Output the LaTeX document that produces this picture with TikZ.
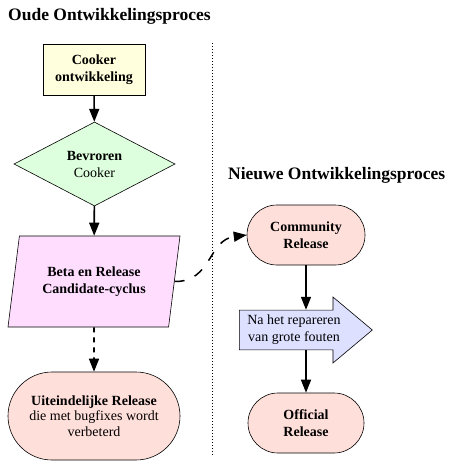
\documentclass[tikz,border=0pt]{standalone}
\usepackage{fontspec}
\setmainfont{Liberation Serif}
\usetikzlibrary{arrows.meta,shapes.geometric,shapes.arrows}
\definecolor{cookeryellow}{HTML}{FFFFDD}
\definecolor{frozengreen}{HTML}{DDFFDD}
\definecolor{betapink}{HTML}{FFDDFF}
\definecolor{releaserose}{HTML}{FFDFDA}
\definecolor{fixblue}{HTML}{DDE0FF}
\tikzset{
	box/.style={draw, line width=0.6pt, align=center, inner sep=0pt, font=\fontsize{14}{17}\selectfont},
	release/.style={box, fill=releaserose, rounded corners=#1},
	flow/.style={line width=1.6pt, -{Triangle[length=13pt,width=10pt]}},
	heading/.style={anchor=west, inner sep=0pt, font=\fontsize{17.5}{20}\selectfont\bfseries},
}

\begin{document}
\begin{tikzpicture}[x=1pt, y=-1pt]
		%%%%% START %%%%%
		\useasboundingbox (0, 0) rectangle (450, 471);
		
		\node[heading] (oldtitle) at (8, 16) {Oude Ontwikkelingsproces};
		\node[heading] (newtitle) at (228, 175) {Nieuwe Ontwikkelingsproces};
		
		\draw[line width=0.8pt, dash pattern=on 1pt off 2pt] (212, 43) -- (212, 455);
		
		%% old process
		\node[box, fill=cookeryellow, minimum width=102pt, minimum height=51pt] (cooker) at (94, 69.5) {\textbf{Cooker}\\\textbf{ontwikkeling}};
		\node[box, diamond, aspect=1.9, fill=frozengreen, minimum width=161pt, minimum height=84pt] (frozen) at (94.5, 164) {\textbf{Bevroren}\\Cooker};
		\node[box, trapezium, trapezium left angle=69, trapezium right angle=111, trapezium stretches body, fill=betapink, minimum width=172pt, minimum height=91pt] (beta) at (94, 281.5) {\textbf{Beta en Release}\\\textbf{Candidate-cyclus}};
		\node[release=44pt, minimum width=172pt, minimum height=88pt, font=\fontsize{14}{15.5}\selectfont] (final) at (94, 416) {\textbf{Uiteindelijke Release}\\die met bugfixes wordt\\verbeterd};
		
		\draw[flow] (cooker) -- (frozen);
		\draw[flow] (frozen) -- (beta);
		\draw[flow, dash pattern=on 5pt off 5pt] (beta) -- (final);
		
		%% new process
		\node[release=30pt, minimum width=118pt, minimum height=60pt] (community) at (306, 235) {\textbf{Community}\\\textbf{Release}};
		\node[box, single arrow, fill=fixblue, single arrow head extend=10pt, single arrow tip angle=80, minimum height=133pt, minimum width=66pt, anchor=tail] (fix) at (239, 330) {Na het repareren\\van grote fouten};
		\node[release=30pt, minimum width=116pt, minimum height=60pt] (official) at (306, 423) {\textbf{Official}\\\textbf{Release}};
		
		\draw[flow] (community.south) -- (community.south |- fix.north);
		\draw[flow] (official.north |- fix.south) -- (official.north);
		
		\draw[flow, line width=1.5pt, dash pattern=on 10pt off 11pt] (beta.east) .. controls (212, 282) and (208, 240) .. (community.west);
		
		%%%%% END %%%%%
\end{tikzpicture}
\end{document}
